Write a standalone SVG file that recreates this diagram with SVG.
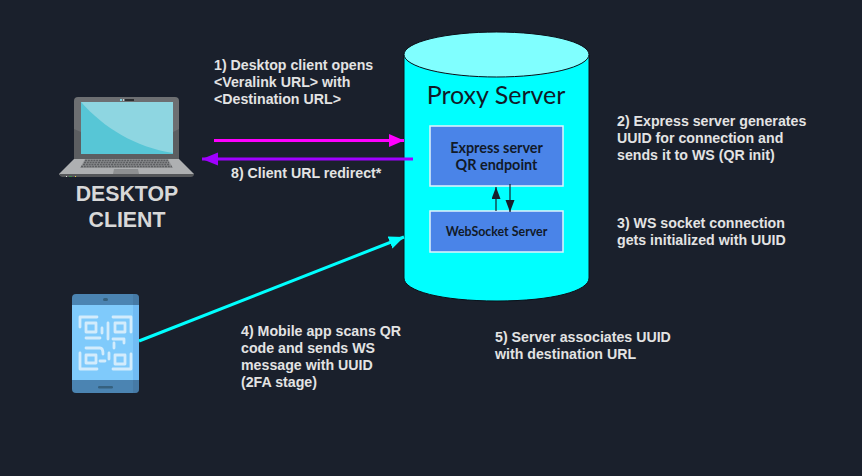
<svg xmlns="http://www.w3.org/2000/svg" width="862" height="476" viewBox="0 0 862 476">
<style>
.t{font-family:"Liberation Sans",Arial,sans-serif;font-weight:700;font-size:14.200px;fill:#e3e3e3}
.d{font-family:"Liberation Sans",Arial,sans-serif;font-weight:700;font-size:21.300px;fill:#d8d8d8;text-anchor:middle}
.l{font-family:Lato,"Noto Sans",sans-serif;fill:#111a28;text-anchor:middle}
.b{fill:#4a84e8;stroke:#e0f4fb;stroke-width:1.500}
.c{fill:none;stroke-width:3}
.q{fill:none;stroke:#d3ecfc;stroke-width:2.800;stroke-linecap:round;stroke-linejoin:round}
.k{fill:none;stroke:#5d5f62;stroke-width:1.400;stroke-dasharray:2 .8}
</style>
<defs>
<marker id="am" markerWidth="16" markerHeight="14" refX="15" refY="6.500" orient="auto" markerUnits="userSpaceOnUse"><path d="M0 0L15 6.500L0 13Z" fill="#ff00ff"/></marker>
<marker id="ap" markerWidth="17" markerHeight="14" refX="16" refY="6.500" orient="auto" markerUnits="userSpaceOnUse"><path d="M0 0L16 6.500L0 13Z" fill="#a000ff"/></marker>
<marker id="ac" markerWidth="16" markerHeight="14" refX="15" refY="6.500" orient="auto" markerUnits="userSpaceOnUse"><path d="M0 0L15 6.500L0 13Z" fill="#00ffff"/></marker>
<marker id="ad" markerWidth="13" markerHeight="10" refX="12" refY="4.500" orient="auto" markerUnits="userSpaceOnUse"><path d="M0 0L12 4.500L0 9Z" fill="#16202c"/></marker>
</defs>
<rect width="862" height="476" fill="#1a202c"/>

<g id="proxy-server">
<path d="M404 54V278C404 291 441 301 497 301S589 291 589 278V54Z" fill="#00ffff" stroke="#0a0f18" stroke-width="1"/>
<ellipse cx="496.500" cy="54.500" rx="92.500" ry="22.500" fill="#80ffff" stroke="#0a0f18" stroke-width="1"/>
<text class="l" x="496" y="104" font-size="25">Proxy Server</text>
</g>
<g id="express-server">
<rect class="b" x="430" y="126" width="133" height="60"/>
<text class="l" x="496.500" y="153" font-size="14.400" font-weight="700">Express server</text>
<text class="l" x="496.500" y="170" font-size="14.400" font-weight="700">QR endpoint</text>
</g>
<g id="websocket-server">
<rect class="b" x="430" y="211" width="133" height="41"/>
<text class="l" x="496.500" y="236" font-size="12.400" font-weight="700">WebSocket Server</text>
</g>

<g id="desktop-client">
<path d="M74 101Q74 97 78 97H175Q179 97 179 101V159H74Z" fill="#6d6f72"/>
<path d="M74 129L81 132V154H173V132L179 129V159H74Z" fill="#5c5e61"/>
<rect x="81" y="102" width="92" height="52" fill="#57c6d6"/>
<path d="M81 102H173V153C135 147 104 128 81 102Z" fill="#8ed6e1"/>
<rect x="120" y="99" width="2" height="2" fill="#7fd2e2"/>
<rect x="123" y="99" width="1" height="2" fill="#c9d0d4"/>
<rect x="125" y="99" width="9" height="2" fill="#2b2d30"/>
<path d="M74 159H179L194 174V175H59V174Z" fill="#aeb0b2"/>
<path d="M59 174H194L194 175Q193 177 191 177H62Q60 177 59 174Z" fill="#55575a"/>
<path d="M85 159H168L173 168H80Z" fill="#8f9193"/>
<path class="k" d="M85 160.500H168M84 162.500H169M83 164.500H170M81 166.500H172"/>
<path d="M114 169H138L139 174H113Z" fill="#8e9092"/>
<rect x="66" y="176" width="1" height="1" fill="#ddd"/>
<rect x="69" y="176" width="3" height="1" fill="#3f8a52"/>
<rect x="75" y="176" width="1" height="1" fill="#e8d44a"/>
<text class="d" x="127" y="201">DESKTOP</text>
<text class="d" x="127" y="227">CLIENT</text>
</g>

<g id="mobile-app">
<rect x="72" y="294" width="67" height="99" rx="4" fill="#4b84b2"/>
<rect x="72" y="305" width="67" height="75" fill="#7fcafb"/>
<path d="M133 294H135Q139 294 139 298V389Q139 393 135 393H133Z" fill="#417099" opacity=".5"/>
<rect x="133" y="305" width="6" height="75" fill="#70bbf4"/>
<rect x="103" y="298" width="5" height="3" rx="1.500" fill="#36617f"/>
<rect x="98" y="386" width="15" height="2.500" rx="1.200" fill="#36617f"/>
<path class="q" d="M80 327V317H97M113 317H131V332M80 353V369H97M113 369H131V354M86 338H100M102 328V333M108 323V339M113 339H124V343M114 343V348M86 348H100Q103 348 103 354M100 361H105M109 353V359"/>
<rect class="q" x="86" y="323" width="10" height="9"/>
<rect class="q" x="115" y="323" width="10" height="9"/>
<rect class="q" x="86" y="355" width="10" height="8"/>
<rect class="q" x="115" y="355" width="10" height="9"/>
</g>

<g id="connectors">
<path class="c" d="M214 140.500H404" stroke="#ff00ff" marker-end="url(#am)"/>
<path class="c" d="M413 159H202" stroke="#a000ff" marker-end="url(#ap)"/>
<path class="c" d="M139 341L404 237" stroke="#00ffff" marker-end="url(#ac)"/>
<path d="M496 211V187" stroke="#16202c" stroke-width="1.200" fill="none" marker-end="url(#ad)"/>
<path d="M510 184V212" stroke="#16202c" stroke-width="1.200" fill="none" marker-end="url(#ad)"/>
</g>

<g id="labels">
<text class="t" x="214" y="70">1) Desktop client opens</text>
<text class="t" x="214" y="87">&lt;Veralink URL&gt; with</text>
<text class="t" x="214" y="104">&lt;Destination URL&gt;</text>
<text class="t" x="231" y="178">8) Client URL redirect*</text>
<text class="t" x="617" y="126">2) Express server generates</text>
<text class="t" x="617" y="143">UUID for connection and</text>
<text class="t" x="617" y="160">sends it to WS (QR init)</text>
<text class="t" x="617" y="228">3) WS socket connection</text>
<text class="t" x="617" y="245">gets initialized with UUID</text>
<text class="t" x="241" y="336">4) Mobile app scans QR</text>
<text class="t" x="241" y="353">code and sends WS</text>
<text class="t" x="241" y="370">message with UUID</text>
<text class="t" x="241" y="387">(2FA stage)</text>
<text class="t" x="495" y="342">5) Server associates UUID</text>
<text class="t" x="495" y="359">with destination URL</text>
</g>
</svg>
